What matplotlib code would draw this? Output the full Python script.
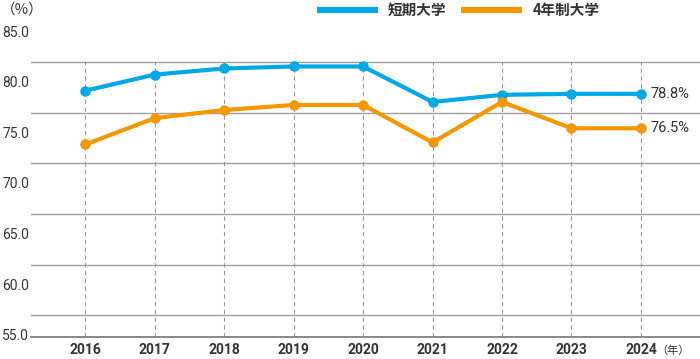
import matplotlib
matplotlib.use('Agg')
import matplotlib.pyplot as plt

# data
years = [2016, 2017, 2018, 2019, 2020, 2021, 2022, 2023, 2024]
junior_college = [79.1, 80.7, 81.3, 81.5, 81.5, 78.0, 78.7, 78.8, 78.8]
university = [73.8, 76.4, 77.2, 77.7, 77.7, 74.0, 78.0, 75.4, 75.4]
series_names = ['短期大学', '4年制大学']
end_labels = ['78.8%', '76.5%']
y_ticks = [55, 60, 65, 70, 75, 80, 85]

blue = '#00a8e6'
orange = '#f39800'
text_color = '#333333'
num_font = 'Roboto'
cjk = ['Noto Sans CJK JP', 'DejaVu Sans']

fig = plt.figure(figsize=(7, 3.59), dpi=100)
ax = fig.add_axes([31 / 700, 1 - 337 / 359, 1 - 31 / 700, (337 - 31) / 359])

ax.set_xlim(2015.22, 2024.85)
ax.set_ylim(54.8, 85)

# grid: horizontal lines sit a bit below each label in the original
for t in y_ticks[1:]:
    ax.axhline(t - 3.05, color='#a0a0a0', lw=1, zorder=1)
ax.vlines(years, 54.8, 81.95, colors='#999999', linestyles=(0, (4, 3)), lw=0.8, zorder=1)

ax.plot(years, junior_college, color=blue, lw=3, marker='o', ms=6.5,
        label=series_names[0], zorder=3, solid_capstyle='round')
ax.plot(years, university, color=orange, lw=3, marker='o', ms=6.5,
        label=series_names[1], zorder=3, solid_capstyle='round')

for vals, txt in zip([junior_college, university], end_labels):
    ax.annotate(txt, (years[-1], vals[-1]), xytext=(7, 0), textcoords='offset points',
                va='center', ha='left', fontsize=10.5, color=text_color, family=num_font)

for s in ['top', 'right', 'left']:
    ax.spines[s].set_visible(False)
ax.spines['bottom'].set_color('#808080')
ax.spines['bottom'].set_linewidth(1.3)

ax.set_yticks(y_ticks)
ax.set_yticklabels([f'{t:.1f}' for t in y_ticks], fontsize=10, color=text_color, family=num_font)
ax.set_xticks(years)
ax.set_xticklabels([str(y) for y in years], fontsize=10, color=text_color,
                   family=num_font, fontweight='bold')
ax.tick_params(axis='y', length=0, pad=1.5)
ax.tick_params(axis='x', length=0, pad=4.5)

fig.text(22 / 700, 1 - 10 / 359, '（%）', ha='center', va='center', fontsize=10.5,
         color=text_color, family=cjk)
fig.text(673 / 700, 1 - 351 / 359, '（年）', ha='center', va='center', fontsize=8,
         color=text_color, family=cjk)

leg = fig.legend(loc='center', bbox_to_anchor=(458 / 700, 1 - 10 / 359), ncol=2,
                 frameon=False, handlelength=4.2, handletextpad=0.7, columnspacing=1.0,
                 prop={'family': cjk, 'weight': 'bold', 'size': 10.5})
for h in leg.legend_handles:
    h.set_marker('')
    h.set_linewidth(4.5)
    h.set_solid_capstyle('butt')
for t in leg.get_texts():
    t.set_color(text_color)

fig.savefig('out.png', dpi=100)
